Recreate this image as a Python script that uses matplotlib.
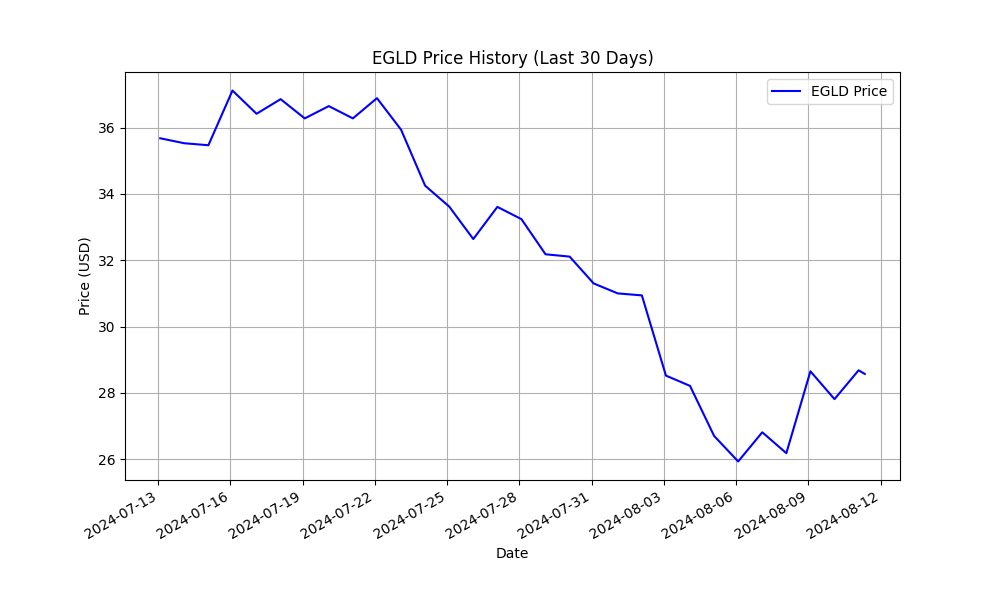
import pandas as pd
import matplotlib
matplotlib.use("Agg")
import matplotlib.pyplot as plt
import matplotlib.dates as mdates

# Fechas diarias (mas el ultimo dato del dia actual)
fechas = list(pd.date_range("2024-07-13 02:00", periods=30, freq="D"))
fechas.append(pd.Timestamp("2024-08-11 08:10"))

# Precios
precios = [35.68, 35.53, 35.47, 37.12, 36.42, 36.86, 36.28, 36.65, 36.28, 36.89,
           35.94, 34.25, 33.62, 32.64, 33.61, 33.24, 32.18, 32.11, 31.30, 31.00,
           30.94, 28.52, 28.21, 26.70, 25.93, 26.81, 26.18, 28.65, 27.81, 28.68,
           28.57]

# Marcas del eje x cada 3 dias
marcas = pd.date_range("2024-07-13", "2024-08-12", freq="3D")

fig = plt.figure(figsize=(10, 6))
ax = plt.gca()
plt.plot(fechas, precios, color="blue", label="EGLD Price")
ax.set_xticks(marcas)
ax.xaxis.set_major_formatter(mdates.DateFormatter("%Y-%m-%d"))
plt.title("EGLD Price History (Last 30 Days)")
plt.xlabel("Date")
plt.ylabel("Price (USD)")
plt.legend()
plt.grid(True)
fig.autofmt_xdate()
plt.savefig("out.png", dpi=100)
plt.close()
